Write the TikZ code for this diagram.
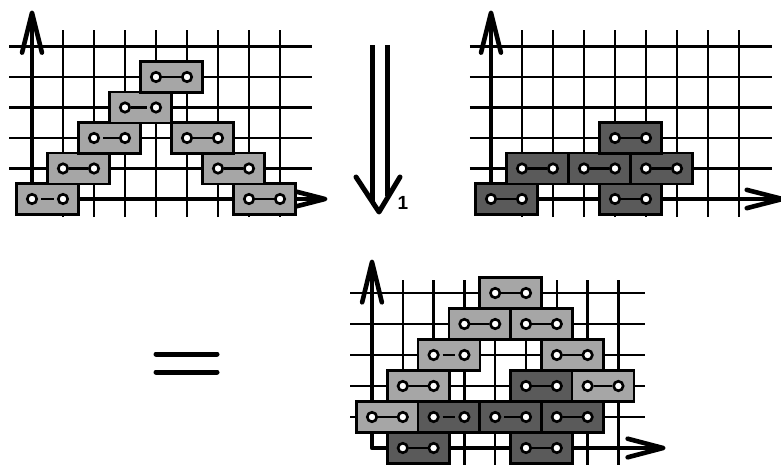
\documentclass[tikz,border=0pt]{standalone}
\usepackage{fontspec}
\setmainfont{Liberation Sans}
\definecolor{lightcell}{HTML}{A6A6A6}
\definecolor{darkcell}{HTML}{5A5A5A}
\tikzset{
  gridline/.style={line width=2.4pt},
  axis/.style={line width=4.6pt, line join=round, line cap=round},
  cell/.style={draw, line width=2.6pt, minimum width=62pt, minimum height=31pt,
               inner sep=0pt, outer sep=0pt},
  pin/.style={circle, draw, fill=white, line width=2.6pt, minimum size=9.5pt,
              inner sep=0pt},
  link/.style={line width=2.4pt},
  gapl/.style={shorten <=3pt},
  gapr/.style={shorten >=3pt},
  heavy/.style={line width=5pt, line cap=round, line join=round},
}
% a domino: a box over two neighbouring lattice points joined by a bond
\newcommand\domino[4][]{%
  \node[cell, fill=#4] (cellbox) at ({#2+0.5},#3) {};
  \node[pin] (pinA) at (#2,#3) {};
  \node[pin] (pinB) at ({#2+1},#3) {};
  \draw[link,#1] (pinA) -- (pinB);
}
% lattice lines and the two axes with open arrow heads
% #1 left end, #2 right end, #3 top, #4 bottom, #5 x tip, #6 y tip
\newcommand\latticeaxes[6]{%
  \foreach \j in {1,...,5} \draw[gridline] (#1,\j) -- (#2,\j);
  \foreach \i in {1,...,8} \draw[gridline] (\i,#4) -- (\i,#3);
  \coordinate (origin) at (0,0);
  \coordinate (xend) at (#5,0);
  \coordinate (yend) at (0,#6);
  \draw[axis] (xend) -- (origin) -- (yend);
  \draw[axis] ([shift={(-1.15,0.3)}]xend) -- (xend) -- ([shift={(-1.15,-0.3)}]xend);
  \draw[axis] ([shift={(-0.32,-1.3)}]yend) -- (yend) -- ([shift={(0.32,-1.3)}]yend);
}
\begin{document}
\begin{tikzpicture}[x=1pt, y=-1pt]
  \useasboundingbox (0,0) rectangle (781,464);

  % upper left: light dominoes
  \begin{scope}[shift={(32pt,-199pt)}, x=31pt, y=30.5pt]
    \latticeaxes{-0.74}{9.03}{5.54}{-0.59}{9.45}{6.1}
    \domino[gapl,gapr]{0}{0}{lightcell}
    \domino{7}{0}{lightcell}
    \domino{1}{1}{lightcell}
    \domino{6}{1}{lightcell}
    \domino[gapl]{2}{2}{lightcell}
    \domino{5}{2}{lightcell}
    \domino[gapr]{3}{3}{lightcell}
    \domino{4}{4}{lightcell}
  \end{scope}

  % upper right: dark dominoes
  \begin{scope}[shift={(491pt,-199pt)}, x=31pt, y=30.5pt]
    \latticeaxes{-0.68}{9.06}{5.54}{-0.59}{9.4}{6.1}
    \domino{0}{0}{darkcell}
    \domino{4}{0}{darkcell}
    \domino{1}{1}{darkcell}
    \domino{3}{1}{darkcell}
    \domino{5}{1}{darkcell}
    \domino{4}{2}{darkcell}
  \end{scope}

  % double arrow between the upper panels
  \coordinate (dlA) at (372,45);
  \coordinate (dlB) at (372,203);
  \coordinate (drA) at (387,45);
  \coordinate (drB) at (387,196);
  \coordinate (dtip) at (379,212);
  \draw[heavy, line cap=butt] (dlA) -- (dlB);
  \draw[heavy, line cap=butt] (drA) -- (drB);
  \draw[heavy] ([shift={(-23,-35)}]dtip) -- (dtip) -- ([shift={(21,-35)}]dtip);
  \node[font=\fontsize{19pt}{19pt}\selectfont\bfseries, inner sep=0pt] (steplabel) at (403,203) {1};

  % equals sign
  \coordinate (eqA) at (156,354);
  \coordinate (eqB) at (217,354);
  \coordinate (eqC) at (156,372);
  \coordinate (eqD) at (217,372);
  \draw[heavy] (eqA) -- (eqB);
  \draw[heavy] (eqC) -- (eqD);

  % lower panel: the combined tiling
  \begin{scope}[shift={(372pt,-448pt)}, x=30.8pt, y=31pt]
    \latticeaxes{-0.71}{8.87}{5.42}{-0.7}{9.45}{6.0}
    \domino{1}{0}{darkcell}
    \domino{5}{0}{darkcell}
    \domino{0}{1}{lightcell}
    \domino[gapl,gapr]{2}{1}{darkcell}
    \domino[gapl]{4}{1}{darkcell}
    \domino{6}{1}{darkcell}
    \domino{1}{2}{lightcell}
    \domino{5}{2}{darkcell}
    \domino{7}{2}{lightcell}
    \domino[gapl,gapr]{2}{3}{lightcell}
    \domino{6}{3}{lightcell}
    \domino{3}{4}{lightcell}
    \domino{5}{4}{lightcell}
    \domino{4}{5}{lightcell}
  \end{scope}
\end{tikzpicture}
\end{document}
